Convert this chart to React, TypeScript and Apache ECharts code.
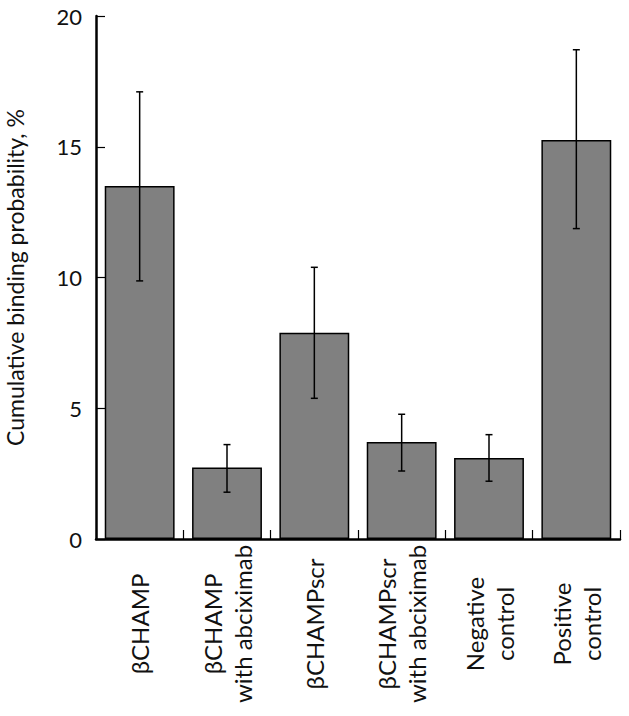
import React, { useEffect, useRef } from "react";
import * as echarts from "echarts";

const categories = [
  "βCHAMP",
  "βCHAMP\nwith abciximab",
  "βCHAMPscr",
  "βCHAMPscr\nwith abciximab",
  "Negative\ncontrol",
  "Positive\ncontrol",
];
const values = [13.5, 2.73, 7.89, 3.71, 3.1, 15.26];
const upper = [17.1, 3.61, 10.39, 4.77, 3.99, 18.71];
const lower = [9.87, 1.79, 5.38, 2.6, 2.21, 11.87];
const yTicks = { min: 0, max: 20, interval: 5 };
const yTitle = "Cumulative binding probability, %";

const FONT = "Lato, 'Open Sans', sans-serif";

export default function App() {
  const ref = useRef<HTMLDivElement>(null);
  useEffect(() => {
    if (!ref.current) return;
    const chart = echarts.init(ref.current, undefined, { renderer: "svg" });
    chart.setOption({
      animation: false,
      backgroundColor: "#ffffff",
      grid: {
        left: 96,
        top: 16,
        right: 9,
        bottom: 177,
        containLabel: false,
        outerBoundsMode: "none",
      },
      xAxis: {
        type: "category",
        data: categories,
        axisLine: { lineStyle: { color: "#000", width: 2.5 } },
        axisTick: { show: true, inside: true, length: 9, lineStyle: { color: "#000", width: 1.2 } },
        axisLabel: {
          interval: 0,
          rotate: 90,
          align: "center",
          verticalAlign: "middle",
          margin: 85,
          fontSize: 24,
          lineHeight: 30,
          fontFamily: FONT,
          color: "#111",
        },
      },
      yAxis: {
        type: "value",
        min: yTicks.min,
        max: yTicks.max,
        interval: yTicks.interval,
        name: yTitle,
        nameLocation: "middle",
        nameRotate: 90,
        nameGap: 70,
        nameTextStyle: { fontSize: 23, fontFamily: FONT, color: "#111" },
        splitLine: { show: false },
        axisLine: { show: true, lineStyle: { color: "#000", width: 2.5 } },
        axisTick: { show: true, inside: true, length: 9, lineStyle: { color: "#000", width: 1.2 } },
        axisLabel: { fontSize: 22, fontFamily: FONT, color: "#111", margin: 14 },
      },
      series: [
        {
          type: "bar",
          data: values,
          barCategoryGap: "20%",
          itemStyle: { color: "#808080", borderColor: "#000", borderWidth: 1.5 },
        },
        {
          type: "custom",
          data: categories.map((_, i) => [i, upper[i], lower[i]]),
          encode: { x: 0, y: [1, 2] },
          z: 5,
          renderItem: (params: any, api: any) => {
            const i = api.value(0);
            const hi = api.coord([i, api.value(1)]);
            const lo = api.coord([i, api.value(2)]);
            const half = 3.5;
            const style = { stroke: "#000", lineWidth: 1.5 };
            return {
              type: "group",
              children: [
                { type: "line", shape: { x1: hi[0], y1: hi[1], x2: lo[0], y2: lo[1] }, style },
                { type: "line", shape: { x1: hi[0] - half, y1: hi[1], x2: hi[0] + half, y2: hi[1] }, style },
                { type: "line", shape: { x1: lo[0] - half, y1: lo[1], x2: lo[0] + half, y2: lo[1] }, style },
              ],
            };
          },
        },
      ],
    });
    return () => chart.dispose();
  }, []);
  return (
    <div
      ref={ref}
      style={{ position: "fixed", left: 0, top: 0, width: 629, height: 716, background: "#fff" }}
    />
  );
}
